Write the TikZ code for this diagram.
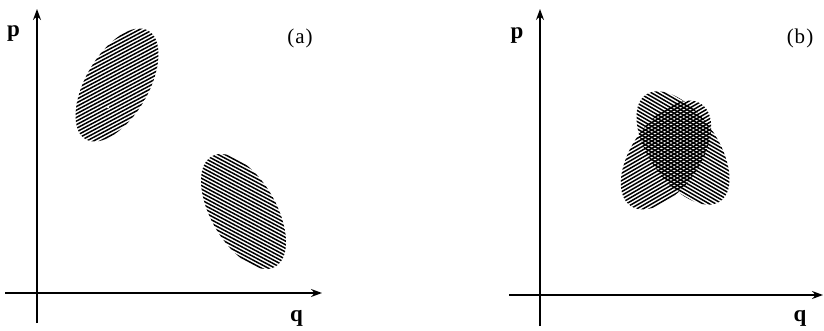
\documentclass[tikz,border=0pt]{standalone}
\usepackage{fontspec}
\setmainfont{Liberation Serif}
\usetikzlibrary{arrows.meta}
\tikzset{
  axis/.style={line width=1.3pt,-{Stealth[length=11pt,width=8pt]}},
  hatch/.style={line width=1.5pt,black},
  lbl/.style={font=\fontsize{23}{23}\selectfont\bfseries,inner sep=0pt},
  tag/.style={font=\fontsize{21}{21}\selectfont,inner sep=0pt}
}
% hatched ellipse: #1 cx, #2 cy, #3 semi-major, #4 semi-minor, #5 rotation, #6 hatch angle
\newcommand{\hatchell}[6]{%
  \begin{scope}[shift={(#1,#2)}]
    \clip[rotate=#5] (0,0) ellipse (#3 and #4);
    \begin{scope}[rotate=#6]
      \foreach \k in {-28,...,28} {\draw[hatch] (-90,\k*3.2) -- (90,\k*3.2);}
    \end{scope}
  \end{scope}}
\begin{document}
\begin{tikzpicture}[x=1pt,y=1pt]
\useasboundingbox (0,0) rectangle (824,330);
% ---- panel (a)
\coordinate (ay0) at (37,7);
\coordinate (ay1) at (37,321);
\coordinate (ax0) at (5,37);
\coordinate (ax1) at (322,37);
\draw[axis] (ay0) -- (ay1);
\draw[axis] (ax0) -- (ax1);
\node[lbl] (pa) at (13.5,296) {p};
\node[lbl] (qa) at (296.5,12) {q};
\node[tag] (ta) at (300,292) {(\kern1pt a\kern1pt)};
\hatchell{117}{245}{62.7}{31.4}{60}{28}
\fill[white] (108,223) circle (1.4);
\hatchell{243.5}{118.5}{63.7}{32.5}{-60}{-28}
% ---- panel (b)
\coordinate (by0) at (540,4);
\coordinate (by1) at (540,321);
\coordinate (bx0) at (509,35);
\coordinate (bx1) at (823,35);
\draw[axis] (by0) -- (by1);
\draw[axis] (bx0) -- (bx1);
\node[lbl] (pb) at (517,294) {p};
\node[lbl] (qb) at (800,12) {q};
\node[tag] (tb) at (800,292) {(\kern1pt b\kern1pt)};
\hatchell{683}{182}{65}{34}{-55}{-30}
\hatchell{666}{175}{62}{34}{55}{30}
\end{tikzpicture}
\end{document}
